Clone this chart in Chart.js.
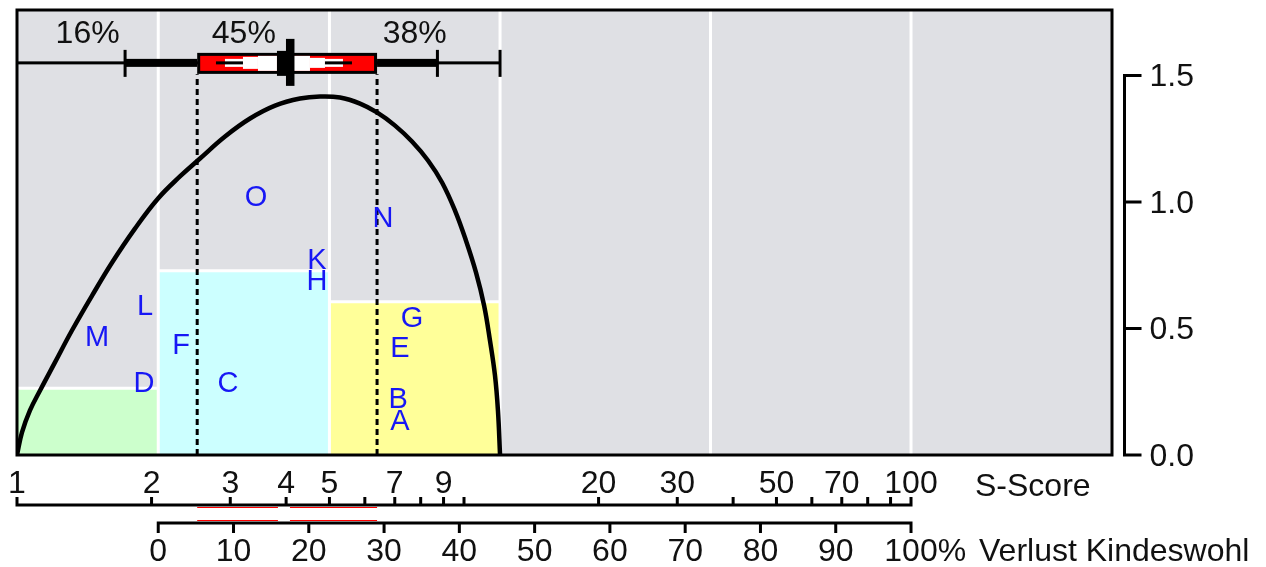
<!DOCTYPE html>
<html>
<head>
  <meta charset="utf-8">
  <title>S-Score / Verlust Kindeswohl</title>
  <script src="https://cdn.jsdelivr.net/npm/chart.js"></script>
  <style>
    html, body { margin: 0; padding: 0; background: #fff; }
    canvas { display: block; }
  </style>
</head>
<body>
  <canvas id="chart" width="1266" height="567"></canvas>

  <script>
    // --- data ---
    var sTicks = [1, 2, 3, 4, 5, 6, 7, 8, 9, 10, 20, 30, 40, 50, 60, 70, 80, 90, 100];
    var sLabels = [1, 2, 3, 4, 5, 7, 9, 20, 30, 50, 70, 100];
    var pctTicks = [0, 10, 20, 30, 40, 50, 60, 70, 80, 90, 100];
    var yTicks = [0, 0.5, 1.0, 1.5];

    // zones (S-Score edges), their heights and shares
    var zoneEdges = [1, 2.07, 5, 12.04];
    var zoneHeights = [0.264, 0.728, 0.606];
    var zoneShares = [16, 45, 38];
    var zoneColors = ['#ccffcc', '#ccffff', '#ffff99'];

    // white vertical grid lines
    var gridS = [2.07, 5, 12.04, 35.6, 100];

    // curve
    var curveS = [1.0, 1.026, 1.069, 1.126, 1.216, 1.327, 1.472, 1.632, 1.836, 2.068, 2.315, 2.567, 2.92, 3.321,
                  3.778, 4.297, 4.763, 5.28, 5.853, 6.387, 7.011, 7.65, 8.307, 8.931, 9.547, 10.1, 10.64, 11.09,
                  11.43, 11.73, 11.91, 12.04];
    var curveV = [0, 0.089, 0.176, 0.255, 0.366, 0.492, 0.63, 0.761, 0.895, 1.014, 1.101, 1.172, 1.259, 1.33,
                  1.381, 1.409, 1.417, 1.413, 1.389, 1.354, 1.302, 1.239, 1.164, 1.077, 0.966, 0.848, 0.721, 0.591,
                  0.453, 0.314, 0.176, 0];

    // box: whisker low, Q1, median, Q3, whisker high
    var boxS = [1.745, 2.53, 4.08, 6.39, 8.72];
    var boxLevel = 1.55;
    var dashTop = 1.505;

    // letters
    var letterNames = ['A', 'B', 'C', 'D', 'E', 'F', 'G', 'H', 'K', 'L', 'M', 'N', 'O'];
    var letterS = [7.19, 7.12, 2.965, 1.923, 7.19, 2.328, 7.65, 4.69, 4.69, 1.934, 1.51, 6.59, 3.425];
    var letterV = [0.136, 0.223, 0.283, 0.283, 0.421, 0.433, 0.543, 0.686, 0.769, 0.587, 0.468, 0.935, 1.018];

    // --- scale ranges ---
    var sMin = 1, sMax = 281.6, yMax = 1.759;
    var pct0S = 2.07, pct100S = 100;
    var f0 = Math.log(pct0S / sMin) / Math.log(sMax / sMin);
    var f1 = Math.log(pct100S / sMin) / Math.log(sMax / sMin);
    var pctMin = -100 * f0 / (f1 - f0);
    var pctMax = 100 * (1 - f0) / (f1 - f0);

    var FONT = '32px "Liberation Sans", Arial, sans-serif';
    var LETTER_FONT = '29px "Liberation Sans", Arial, sans-serif';

    // build datasets
    var datasets = [];
    for (var i = 0; i < zoneHeights.length; i++) {
      datasets.push({
        data: [{ x: zoneEdges[i], y: zoneHeights[i] }, { x: zoneEdges[i + 1], y: zoneHeights[i] }],
        fill: 'origin',
        backgroundColor: zoneColors[i],
        borderColor: '#ffffff',
        borderWidth: 3,
        pointRadius: 0,
        order: 10
      });
    }

    var gridData = [];
    gridS.forEach(function (g) {
      gridData.push({ x: g, y: 0 }, { x: g, y: yMax }, { x: g, y: null });
    });
    datasets.push({
      data: gridData,
      borderColor: '#ffffff',
      borderWidth: 3,
      pointRadius: 0,
      spanGaps: false,
      order: 9
    });

    datasets.push({
      data: [{ x: boxS[1], y: 0 }, { x: boxS[1], y: dashTop }, { x: boxS[1], y: null },
             { x: boxS[3], y: 0 }, { x: boxS[3], y: dashTop }],
      borderColor: '#000000',
      borderWidth: 3,
      borderDash: [6, 4],
      pointRadius: 0,
      spanGaps: false,
      order: 5
    });

    datasets.push({
      data: curveS.map(function (s, k) { return { x: s, y: curveV[k] }; }),
      borderColor: '#000000',
      borderWidth: 4.5,
      tension: 0.4,
      pointRadius: 0,
      order: 1
    });

    var letterIndex = datasets.length;
    datasets.push({
      data: letterS.map(function (s, k) { return { x: s, y: letterV[k] }; }),
      showLine: false,
      pointRadius: 0,
      order: 0
    });

    // background, box glyph, letters, labels and the hand-made axes
    var decor = {
      id: 'decor',
      beforeDatasetsDraw: function (chart) {
        var a = chart.chartArea, ctx = chart.ctx;
        ctx.save();
        ctx.fillStyle = '#dfe0e4';
        ctx.fillRect(a.left, a.top, a.right - a.left, a.bottom - a.top);
        ctx.restore();
      },
      afterDatasetsDraw: function (chart) {
        var ctx = chart.ctx, a = chart.chartArea;
        var xs = chart.scales.x, ys = chart.scales.y, xp = chart.scales.xp;
        var px = function (s) { return xs.getPixelForValue(s); };
        ctx.save();

        // letters
        ctx.font = LETTER_FONT;
        ctx.fillStyle = '#1717f5';
        ctx.textAlign = 'center';
        ctx.textBaseline = 'middle';
        chart.getDatasetMeta(letterIndex).data.forEach(function (pt, k) {
          ctx.fillText(letterNames[k], pt.x, pt.y + 1);
        });

        // zone shares
        ctx.font = FONT;
        ctx.fillStyle = '#111';
        var ly = ys.getPixelForValue(1.665);
        for (var i = 0; i < zoneShares.length; i++) {
          var cx = (px(zoneEdges[i]) + px(zoneEdges[i + 1])) / 2;
          ctx.fillText(zoneShares[i] + '%', cx, ly);
        }

        // box glyph
        var yc = ys.getPixelForValue(boxLevel);
        var xWL = px(boxS[0]), xQ1 = px(boxS[1]), m = px(boxS[2]), xQ3 = px(boxS[3]), xWH = px(boxS[4]);
        var xE = px(zoneEdges[zoneEdges.length - 1]);
        ctx.fillStyle = '#000';
        ctx.fillRect(a.left, yc - 1.5, xE - a.left, 3);
        ctx.fillRect(xWL, yc - 4, xQ1 - xWL, 8);
        ctx.fillRect(xQ3, yc - 4, xWH - xQ3, 8);
        [xWL, xWH, xE].forEach(function (x) { ctx.fillRect(x - 1.5, yc - 13, 3, 27); });
        ctx.fillRect(xQ1, yc - 10, xQ3 - xQ1, 21);
        ctx.fillStyle = '#ff0000';
        ctx.fillRect(xQ1 + 3, yc - 7, xQ3 - xQ1 - 6, 15);
        ctx.fillStyle = '#ffffff';
        ctx.fillRect(m - 65, yc - 4, 18, 8);
        ctx.fillRect(m - 47, yc - 6, 15, 12);
        ctx.fillRect(m - 32, yc - 7, 19, 15);
        ctx.fillRect(m + 4, yc - 7, 16, 15);
        ctx.fillRect(m + 20, yc - 5, 15, 10);
        ctx.fillRect(m + 35, yc - 4, 18, 8);
        ctx.fillStyle = '#000';
        ctx.fillRect(m - 74, yc - 1.5, 27, 3);
        ctx.fillRect(m + 35, yc - 1.5, 27, 3);
        ctx.fillRect(m - 13, yc - 12, 10, 25);
        ctx.fillRect(m - 4, yc - 24, 8.5, 47);

        // frame
        ctx.lineWidth = 3;
        ctx.strokeStyle = '#000';
        ctx.strokeRect(a.left, a.top, a.right - a.left, a.bottom - a.top);

        var sAxisY = a.bottom + 50, pAxisY = a.bottom + 68;

        // S-Score axis
        ctx.strokeStyle = '#000';
        ctx.lineWidth = 3;
        ctx.beginPath();
        ctx.moveTo(px(sTicks[0]) - 1.5, sAxisY);
        ctx.lineTo(px(sTicks[sTicks.length - 1]) + 1.5, sAxisY);
        sTicks.forEach(function (t) {
          ctx.moveTo(px(t), sAxisY);
          ctx.lineTo(px(t), sAxisY - 8);
        });
        ctx.stroke();
        ctx.fillStyle = '#111';
        ctx.font = FONT;
        ctx.textAlign = 'center';
        sLabels.forEach(function (t) {
          ctx.fillText(String(t), px(t), a.bottom + 29);
        });
        ctx.textAlign = 'left';
        ctx.fillText('S-Score', px(100) + 64, a.bottom + 32);

        // percent axis
        ctx.beginPath();
        ctx.moveTo(xp.getPixelForValue(0) - 1.5, pAxisY);
        ctx.lineTo(xp.getPixelForValue(100) + 1.5, pAxisY);
        pctTicks.forEach(function (t) {
          ctx.moveTo(xp.getPixelForValue(t), pAxisY);
          ctx.lineTo(xp.getPixelForValue(t), pAxisY + 10);
        });
        ctx.stroke();
        ctx.textAlign = 'center';
        pctTicks.forEach(function (t) {
          ctx.fillText(String(t), xp.getPixelForValue(t), a.bottom + 97);
        });
        ctx.textAlign = 'left';
        var x100 = xp.getPixelForValue(100);
        ctx.fillText('%', x100 + ctx.measureText('100').width / 2, a.bottom + 97);
        ctx.fillText('Verlust Kindeswohl', px(100) + 68, a.bottom + 97);

        // red marks between the axes
        ctx.strokeStyle = '#ff0000';
        ctx.lineWidth = 1;
        ctx.beginPath();
        [Math.round(sAxisY) + 2.5, Math.round(pAxisY) - 2.5].forEach(function (yy) {
          ctx.moveTo(xQ1, yy); ctx.lineTo(m - 12, yy);
          ctx.moveTo(m, yy); ctx.lineTo(xQ3, yy);
        });
        ctx.stroke();

        // right value axis
        var yx = a.right + 12.5;
        ctx.strokeStyle = '#000';
        ctx.lineWidth = 3;
        ctx.beginPath();
        ctx.moveTo(yx, ys.getPixelForValue(0) + 1.5);
        ctx.lineTo(yx, ys.getPixelForValue(yTicks[yTicks.length - 1]) - 1.5);
        yTicks.forEach(function (t) {
          ctx.moveTo(yx, ys.getPixelForValue(t));
          ctx.lineTo(yx + 17, ys.getPixelForValue(t));
        });
        ctx.stroke();
        ctx.textAlign = 'left';
        yTicks.forEach(function (t) {
          ctx.fillText(t.toFixed(1), yx + 25, ys.getPixelForValue(t) + 2);
        });

        ctx.restore();
      }
    };

    var chart = new Chart(document.getElementById('chart').getContext('2d'), {
      type: 'line',
      data: { datasets: datasets },
      options: {
        responsive: false,
        animation: false,
        events: [],
        layout: { padding: { left: 17, top: 10, right: 154, bottom: 112 } },
        plugins: { legend: { display: false }, tooltip: { enabled: false } },
        scales: {
          x: { type: 'logarithmic', min: sMin, max: sMax, display: false },
          xp: { type: 'linear', axis: 'x', min: pctMin, max: pctMax, display: false },
          y: { type: 'linear', min: 0, max: yMax, display: false }
        }
      },
      plugins: [decor]
    });
  </script>
</body>
</html>
